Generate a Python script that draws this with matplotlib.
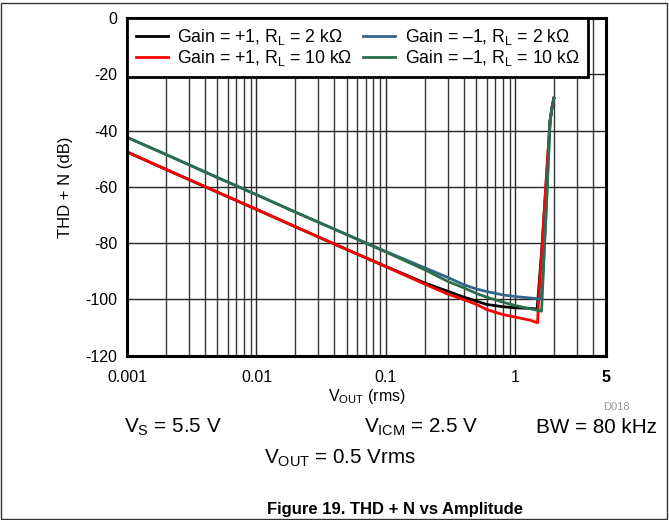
import matplotlib.pyplot as plt
from matplotlib.ticker import FixedLocator, NullFormatter
from matplotlib.patches import Rectangle

plt.rcParams['font.family'] = ['Liberation Sans', 'DejaVu Sans']
plt.rcParams['mathtext.fontset'] = 'custom'
plt.rcParams['mathtext.rm'] = 'Liberation Sans'
plt.rcParams['mathtext.it'] = 'Liberation Sans:italic'

# THD+N (dB) against output amplitude (Vrms)
vout_g1_2k = [0.001, 0.002, 0.005, 0.01, 0.02, 0.05, 0.1, 0.2, 0.3, 0.4, 0.5, 0.6, 0.8, 1.0,
              1.3, 1.47, 1.52, 1.6, 1.72, 1.85, 1.92, 1.98]
thd_g1_2k = [-47.6, -53.8, -61.9, -68.0, -74.2, -82.3, -88.3, -94.2, -97.1, -99.2, -100.6,
             -101.8, -102.6, -103.0, -103.2, -103.4, -95.0, -82.0, -60.0, -36.6, -31.5, -28.5]

vout_g1_10k = [0.001, 0.002, 0.005, 0.01, 0.02, 0.05, 0.1, 0.2, 0.3, 0.4, 0.5, 0.6, 0.8, 1.0,
               1.3, 1.48, 1.51, 1.56, 1.70, 1.85, 1.92, 1.98]
thd_g1_10k = [-47.6, -53.8, -61.9, -68.0, -74.2, -82.3, -88.4, -94.6, -98.1, -100.1, -101.8,
              -103.6, -105.4, -106.3, -107.4, -108.3, -100.0, -90.0, -62.0, -36.6, -31.5, -28.5]

vout_gm1_2k = [0.001, 0.002, 0.005, 0.01, 0.02, 0.05, 0.1, 0.2, 0.3, 0.4, 0.5, 0.6, 0.8, 1.0,
               1.3, 1.57, 1.62, 1.74, 1.85, 1.92, 1.98]
thd_gm1_2k = [-42.4, -48.5, -56.7, -62.8, -69.0, -77.0, -83.0, -88.8, -92.2, -94.8, -96.3,
              -97.2, -98.4, -99.0, -99.5, -99.9, -93.0, -65.0, -36.6, -31.5, -28.5]

vout_gm1_10k = [0.001, 0.002, 0.005, 0.01, 0.02, 0.05, 0.1, 0.2, 0.3, 0.4, 0.5, 0.6, 0.8, 1.0,
                1.3, 1.59, 1.63, 1.74, 1.85, 1.92, 1.98]
thd_gm1_10k = [-42.4, -48.5, -56.7, -62.8, -69.0, -77.0, -83.2, -89.5, -93.6, -95.9, -97.9,
               -99.2, -101.0, -102.2, -103.3, -104.2, -93.4, -65.0, -36.6, -31.5, -28.5]

x_major = [0.001, 0.01, 0.1, 1, 5]
x_labels = ['0.001', '0.01', '0.1', '1', '5']
x_minor = [m * d for d in (0.001, 0.01, 0.1) for m in range(2, 10)] + [2, 3, 4]
y_ticks = [0, -20, -40, -60, -80, -100, -120]

fig = plt.figure(figsize=(6.69, 5.2), dpi=100)
ax = fig.add_axes([0.1898, 0.316, 0.716, 0.6494])

ax.plot(vout_g1_2k, thd_g1_2k, color='black', lw=2.0,
        label='Gain = +1, R$_\\mathregular{L}$ = 2 k\u03a9')
ax.plot(vout_g1_10k, thd_g1_10k, color='#ff0000', lw=2.0,
        label='Gain = +1, R$_\\mathregular{L}$ = 10 k\u03a9')
ax.plot(vout_gm1_2k, thd_gm1_2k, color='#33668c', lw=2.0,
        label='Gain = \u20131, R$_\\mathregular{L}$ = 2 k\u03a9')
ax.plot(vout_gm1_10k, thd_gm1_10k, color='#2d6e4c', lw=2.0,
        label='Gain = \u20131, R$_\\mathregular{L}$ = 10 k\u03a9')

ax.set_xscale('log')
ax.set_xlim(0.001, 5)
ax.set_ylim(-120, 0)
ax.xaxis.set_major_locator(FixedLocator(x_major))
ax.xaxis.set_minor_locator(FixedLocator(x_minor))
ax.xaxis.set_minor_formatter(NullFormatter())
ax.set_xticklabels(x_labels)
ax.get_xticklabels()[-1].set_fontweight('bold')
ax.set_yticks(y_ticks)
ax.set_yticklabels([str(v) for v in y_ticks])
ax.tick_params(axis='both', which='both', length=0, labelsize=11.5)
ax.tick_params(axis='x', pad=10)
ax.tick_params(axis='y', pad=7)

ax.grid(True, which='major', color='#252525', lw=1.0)
ax.grid(True, which='minor', axis='x', color='#353535', lw=1.0)
ax.set_axisbelow(True)
for s in ax.spines.values():
    s.set_linewidth(2.2)
    s.set_color('black')

ax.set_xlabel('V$_\\mathregular{OUT}$ (rms)', fontsize=11.5, labelpad=2)
ax.set_ylabel('THD + N (dB)', fontsize=12, labelpad=9)

leg = ax.legend(ncol=2, loc='upper left', bbox_to_anchor=(0, 1), borderaxespad=0,
                fontsize=12.7, frameon=True, fancybox=False, framealpha=1,
                edgecolor='black', handlelength=1.8, handletextpad=0.55,
                columnspacing=0.6, labelspacing=0.08, borderpad=0.5)
leg.get_frame().set_linewidth(2.0)

fig.text(0.921, 0.217, 'D018', fontsize=8, color='#999999', ha='center', va='center')
fig.text(0.259, 0.167, 'V$_\\mathregular{S}$ = 5.5 V', fontsize=14.9, ha='center', va='baseline')
fig.text(0.629, 0.167, 'V$_\\mathregular{ICM}$ = 2.5 V', fontsize=14.9, ha='center', va='baseline')
fig.text(0.892, 0.167, 'BW = 80 kHz', fontsize=14.9, ha='center', va='baseline')
fig.text(0.508, 0.109, 'V$_\\mathregular{OUT}$ = 0.5 Vrms', fontsize=14.9, ha='center', va='baseline')
fig.text(0.590, 0.012, 'Figure 19. THD + N vs Amplitude', fontsize=12,
         fontweight='bold', ha='center', va='baseline')

fig.patches.append(Rectangle((0.0015, 0.002), 0.996, 0.993, transform=fig.transFigure,
                             fill=False, edgecolor='#333333', lw=1.0))

fig.savefig('out.png', dpi=100)
